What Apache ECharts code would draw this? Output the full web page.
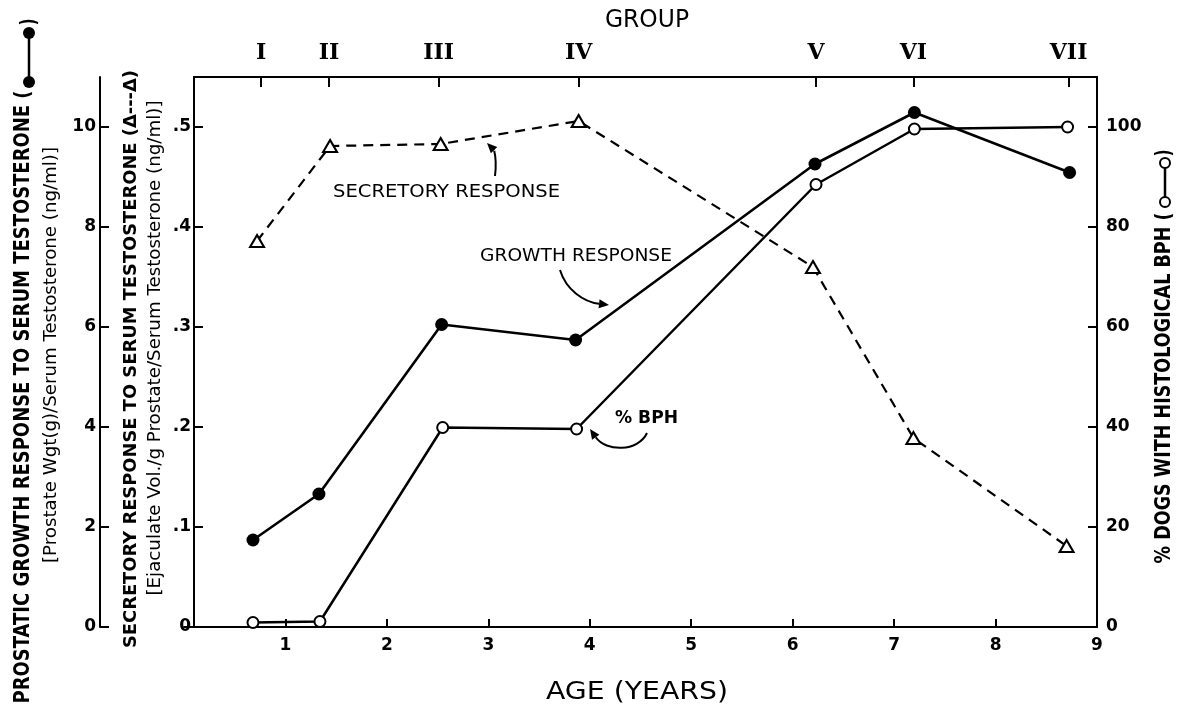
<!DOCTYPE html>
<html><head><meta charset="utf-8">
<script src="https://cdn.jsdelivr.net/npm/echarts@6/dist/echarts.min.js"></script>
<style>html,body{margin:0;padding:0;background:#fff}#c{width:1177px;height:708px}</style>
</head><body><div id="c"></div>
<script>
// ---- data ----
const ageGrowth = [0.68, 1.33, 2.54, 3.86, 6.22, 7.20, 8.73];
const growth = [1.74, 2.66, 6.05, 5.74, 9.26, 10.29, 9.09];          // prostate wgt / serum T
const ageBph = [0.68, 1.34, 2.55, 3.87, 6.23, 7.20, 8.71];
const bph = [0.9, 1.1, 39.9, 39.6, 88.5, 99.6, 100];                   // % dogs with BPH
const ageSecretory = [0.72, 1.44, 2.53, 3.89, 6.20, 7.19, 8.70];
const secretory = [0.386, 0.481, 0.483, 0.506, 0.360, 0.189, 0.081];  // ejaculate vol / g prostate / serum T
const groupAges = [0.76, 1.43, 2.51, 3.89, 6.23, 7.19, 8.72];
const groupLabels = ['I', 'II', 'III', 'IV', 'V', 'VI', 'VII'];
const ageTicks = [1, 2, 3, 4, 5, 6, 7, 8];
const ageLabels = [1, 2, 3, 4, 5, 6, 7, 8, 9];

const FONT = '"DejaVu Sans", sans-serif';
const ctx = document.createElement('canvas').getContext('2d');
function fit(text, size, weight, target) {
  ctx.font = weight + ' ' + size + 'px "DejaVu Sans"';
  return target / ctx.measureText(text).width;
}
function vText(text, x, y, size, weight, length) {
  return { type: 'text', x: x, y: y, rotation: Math.PI / 2, scaleX: fit(text, size, weight, length), silent: true,
    style: { text: text, fontFamily: FONT, fontSize: size, fontWeight: weight, fill: '#000', align: 'center', verticalAlign: 'middle' } };
}
function hText(text, x, y, size, weight, length, align) {
  return { type: 'text', x: x, y: y, scaleX: length ? fit(text, size, weight, length) : 1, silent: true,
    style: { text: text, fontFamily: FONT, fontSize: size, fontWeight: weight, fill: '#000', align: align || 'center', verticalAlign: 'middle' } };
}
function arrow(p0, c1, c2, p1) {
  const ang = Math.atan2(p1[1] - c2[1], p1[0] - c2[0]);
  const L = 10, W = 4.5;
  const bx = p1[0] - L * Math.cos(ang), by = p1[1] - L * Math.sin(ang);
  const nx = -Math.sin(ang) * W, ny = Math.cos(ang) * W;
  return [
    { type: 'bezierCurve', silent: true, shape: { x1: p0[0], y1: p0[1], cpx1: c1[0], cpy1: c1[1], cpx2: c2[0], cpy2: c2[1], x2: bx, y2: by },
      style: { stroke: '#000', lineWidth: 2, fill: null } },
    { type: 'polygon', silent: true, shape: { points: [p1, [bx + nx, by + ny], [bx - nx, by - ny]] }, style: { fill: '#000' } }
  ];
}

const G0 = { left: 184, right: 80, top: 77, bottom: 81 };
const G1 = { left: 194, right: 80, top: 77, bottom: 81 };
const pxPerYear = (1177 - G0.left - G0.right) / 9;
const topMin = (G1.left - G0.left) / pxPerYear;

const axisLine = { show: true, onZero: false, lineStyle: { color: '#000', width: 2 } };
const tickStyle = { color: '#000', width: 2 };
const labelBase = { color: '#000', fontFamily: FONT, fontSize: 17, fontWeight: 'bold' };

const chart = echarts.init(document.getElementById('c'), null, { renderer: 'canvas' });
chart.setOption({
  animation: false,
  backgroundColor: '#fff',
  grid: [Object.assign({ containLabel: false }, G0), Object.assign({ containLabel: false }, G1)],
  xAxis: [
    { type: 'value', gridIndex: 0, position: 'bottom', min: 0, max: 9,
      axisLine: axisLine, splitLine: { show: false },
      axisTick: { show: true, inside: true, length: 8, lineStyle: tickStyle, customValues: ageTicks },
      axisLabel: Object.assign({ margin: 10, customValues: ageLabels }, labelBase) },
    { type: 'value', gridIndex: 1, position: 'top', min: topMin, max: 9,
      axisLine: axisLine, splitLine: { show: false },
      axisTick: { show: true, inside: true, length: 10, lineStyle: tickStyle, customValues: groupAges },
      axisLabel: { margin: 13, customValues: groupAges, color: '#000', fontFamily: '"DejaVu Serif", serif', fontWeight: 'bold', fontSize: 22,
        formatter: function (v) { const i = groupAges.findIndex(g => Math.abs(g - v) < 1e-6); return i >= 0 ? groupLabels[i] : ''; } } }
  ],
  yAxis: [
    { type: 'value', gridIndex: 0, position: 'left', offset: G0.left - 100, min: 0, max: 11, interval: 2,
      axisLine: axisLine, splitLine: { show: false },
      axisTick: { show: true, inside: true, length: 9, lineStyle: tickStyle },
      axisLabel: Object.assign({ margin: 4, showMaxLabel: false }, labelBase) },
    { type: 'value', gridIndex: 0, position: 'left', offset: G0.left - G1.left, min: 0, max: 0.55, interval: 0.1,
      axisLine: axisLine, splitLine: { show: false },
      axisTick: { show: true, inside: true, length: 9, lineStyle: tickStyle },
      axisLabel: Object.assign({ margin: 3, showMaxLabel: false,
        formatter: function (v) { return v === 0 ? '0' : v.toFixed(1).replace(/^0/, ''); } }, labelBase) },
    { type: 'value', gridIndex: 0, position: 'right', min: 0, max: 110, interval: 20,
      axisLine: axisLine, splitLine: { show: false },
      axisTick: { show: true, inside: true, length: 9, lineStyle: tickStyle },
      axisLabel: Object.assign({ margin: 9, showMaxLabel: false }, labelBase) },
    { type: 'value', gridIndex: 1, show: false, min: 0, max: 1 }
  ],
  series: [
    { type: 'line', name: 'Secretory response', xAxisIndex: 0, yAxisIndex: 1, z: 3,
      data: ageSecretory.map((a, i) => [a, secretory[i]]),
      symbol: 'triangle', symbolSize: [14, 12], showAllSymbol: true,
      itemStyle: { color: '#fff', borderColor: '#000', borderWidth: 2 },
      lineStyle: { color: '#000', width: 2.2, type: [10, 7] }, emphasis: { disabled: true }, silent: true },
    { type: 'line', name: '% BPH', xAxisIndex: 0, yAxisIndex: 2, z: 4,
      data: ageBph.map((a, i) => [a, bph[i]]),
      symbol: 'circle', symbolSize: 11, showAllSymbol: true,
      itemStyle: { color: '#fff', borderColor: '#000', borderWidth: 2 },
      lineStyle: { color: '#000', width: 2.5 }, emphasis: { disabled: true }, silent: true },
    { type: 'line', name: 'Growth response', xAxisIndex: 0, yAxisIndex: 0, z: 5,
      data: ageGrowth.map((a, i) => [a, growth[i]]),
      symbol: 'circle', symbolSize: 13, showAllSymbol: true,
      itemStyle: { color: '#000', borderColor: '#000', borderWidth: 0 },
      lineStyle: { color: '#000', width: 2.6 }, emphasis: { disabled: true }, silent: true }
  ],
  graphic: [].concat(
    [
      hText('GROUP', 647, 21, 24, 'normal', 84),
      hText('AGE (YEARS)', 637, 693, 24, 'normal', 182),
      hText('SECRETORY RESPONSE', 333, 192, 18, 'normal', 227, 'left'),
      hText('GROWTH RESPONSE', 480, 256, 18, 'normal', 192, 'left'),
      hText('% BPH', 615, 418, 18, 'bold', 63, 'left'),
      // left outer title
      vText('PROSTATIC GROWTH RESPONSE TO SERUM TESTOSTERONE (', 23, 397, 22, 'bold', 613),
      { type: 'line', silent: true, shape: { x1: 29, y1: 33, x2: 29, y2: 82 }, style: { stroke: '#000', lineWidth: 2.5 } },
      { type: 'circle', silent: true, shape: { cx: 29, cy: 33, r: 6 }, style: { fill: '#000' } },
      { type: 'circle', silent: true, shape: { cx: 29, cy: 82, r: 6 }, style: { fill: '#000' } },
      vText(')', 29, 22, 22, 'bold', 7),
      vText('[Prostate Wgt(g)/Serum Testosterone (ng/ml)]', 52, 355, 17, 'normal', 416),
      // inner title
      vText('SECRETORY RESPONSE TO SERUM TESTOSTERONE (\u0394---\u0394)', 131, 359, 18, 'bold', 578),
      vText('[Ejaculate Vol./g Prostate/Serum Testosterone (ng/ml)]', 156, 348, 17, 'normal', 495),
      // right title
      vText('% DOGS WITH HISTOLOGICAL BPH (', 1164, 388, 22, 'bold', 351),
      { type: 'line', silent: true, shape: { x1: 1165, y1: 163, x2: 1165, y2: 202 }, style: { stroke: '#000', lineWidth: 2.5 } },
      { type: 'circle', silent: true, shape: { cx: 1165, cy: 163, r: 5 }, style: { fill: '#fff', stroke: '#000', lineWidth: 2 } },
      { type: 'circle', silent: true, shape: { cx: 1165, cy: 202, r: 5 }, style: { fill: '#fff', stroke: '#000', lineWidth: 2 } },
      vText(')', 1164, 153, 22, 'bold', 7)
    ],
    arrow([495, 176], [497, 160], [494, 150], [487, 143]),
    arrow([560, 270], [566, 290], [584, 302], [609, 305]),
    arrow([647, 433], [638, 452], [606, 452], [590, 429])
  )
});
</script>
</body></html>
